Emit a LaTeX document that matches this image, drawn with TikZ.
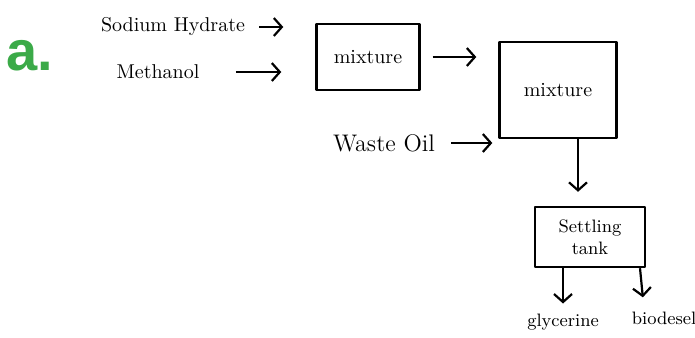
\documentclass[tikz,border=0pt]{standalone}
\usepackage{fontspec}
\newfontfamily\partfont{Liberation Sans}
\usepackage{tikz}
\usetikzlibrary{arrows.meta,positioning,calc}
\definecolor{partgreen}{HTML}{3BAA48}

\begin{document}
\begin{tikzpicture}[x=0.5pt, y=-0.5pt,
		box/.style={draw, line width=1.2pt, line join=round, inner sep=2pt},
		flow/.style={-{Straight Barb[length=4pt,width=9pt]}, line width=1.1pt},
		txt/.style={inner sep=1pt}]
		\useasboundingbox (0,0) rectangle (695,337);

		\node[text=partgreen, inner sep=0pt] (part) at (30,56) {\partfont\fontsize{28}{28}\selectfont\bfseries a.};

		\node[txt] (sodium) at (173,27) {Sodium Hydrate};
		\node[txt] (methanol) at (158,72) {Methanol};
		\node[box, minimum width=51.5pt, minimum height=33pt] (mix1) at (368,57) {mixture};
		\node[box, minimum width=58.5pt, minimum height=48pt] (mix2) at (558,90) {mixture};
		\node[txt, font=\large] (waste) at (384,143) {Waste Oil};
		\node[box, font=\small, align=center, minimum width=55pt, minimum height=30pt] (tank) at (590,237) {Settling\\tank};
		\node[txt, font=\small] (glycerine) at (563,322) {glycerine};
		\node[txt, font=\small] (biodiesel) at (664,318) {biodesel};

		\draw[flow, shorten <=6pt, shorten >=16pt] (sodium) -- (sodium -| mix1.west);
		\draw[flow, shorten <=17pt, shorten >=17pt] (methanol) -- (methanol -| mix1.west);
		\draw[flow, shorten <=6pt, shorten >=11pt] (mix1.east) -- (mix1.east -| mix2.west);
		\draw[flow, shorten <=7pt, shorten >=3pt] (waste) -- (waste -| mix2.west);
		\draw[flow, shorten >=7pt] ([xshift=-6pt]tank.north |- mix2.south) -- ([xshift=-6pt]tank.north);
		\draw[flow, shorten >=4pt] (glycerine.north |- tank.south) -- (glycerine.north);
		\draw[flow, shorten >=6pt] ([xshift=-12pt]biodiesel.north |- tank.south) -- ([xshift=-10pt]biodiesel.north);
	\end{tikzpicture}
\end{document}
